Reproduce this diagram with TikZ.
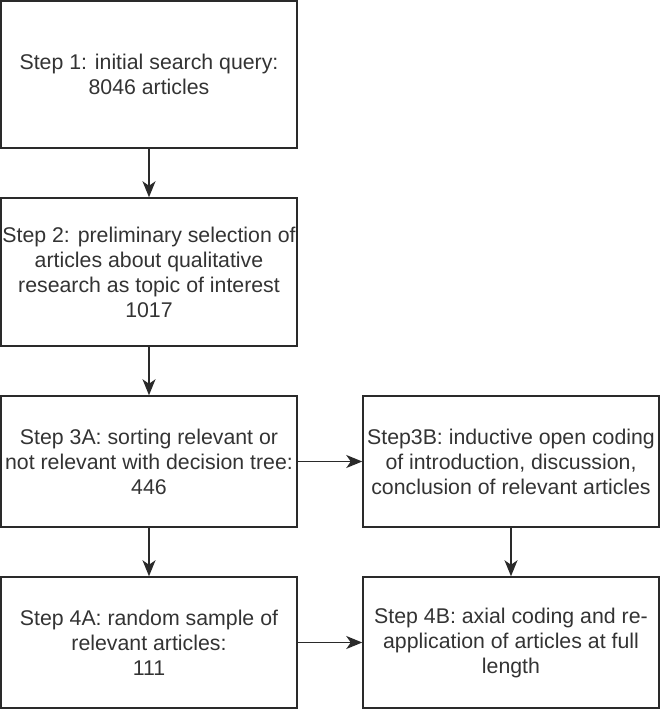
\documentclass[tikz,border=0pt]{standalone}
\usepackage{fontspec}
\setmainfont{Liberation Sans}
\usetikzlibrary{arrows.meta}
\definecolor{ink}{HTML}{2A2A2A}
\definecolor{txt}{HTML}{333333}
\begin{document}
\begin{tikzpicture}[x=1pt,y=-1pt,
  box/.style={draw=ink, line width=1.5pt, inner sep=0pt, minimum width=296pt, align=center,
    text=txt, font=\fontsize{21.3}{25}\selectfont},
  conn/.style={draw=ink, line width=1.5pt, -{Stealth[length=16pt,width=13pt,inset=4.5pt]}}]
\useasboundingbox (0,0) rectangle (661,710);
\node[box, minimum height=147pt] (s1) at (149,74.5) {Step 1: initial search query:\\8046 articles};
\node[box, minimum height=148pt] (s2) at (149,272) {Step 2: preliminary selection of\\articles about qualitative\\research as topic of interest\\1017};
\node[box, minimum height=131pt] (s3a) at (149,461.5) {Step 3A: sorting relevant or\\not relevant with decision tree:\\446};
\node[box, minimum height=131pt] (s3b) at (511,461.5) {Step3B: inductive open coding\\of introduction, discussion,\\conclusion of relevant articles};
\node[box, minimum height=131pt] (s4a) at (149,642.5) {Step 4A: random sample of\\relevant articles:\\111};
\node[box, minimum height=131pt] (s4b) at (511,642.5) {Step 4B: axial coding and re-\\application of articles at full\\length};
\draw[conn] (s1) -- (s2);
\draw[conn] (s2) -- (s3a);
\draw[conn] (s3a) -- (s4a);
\draw[conn] (s3b) -- (s4b);
\draw[conn] (s3a) -- (s3b);
\draw[conn] (s4a) -- (s4b);
\end{tikzpicture}
\end{document}
